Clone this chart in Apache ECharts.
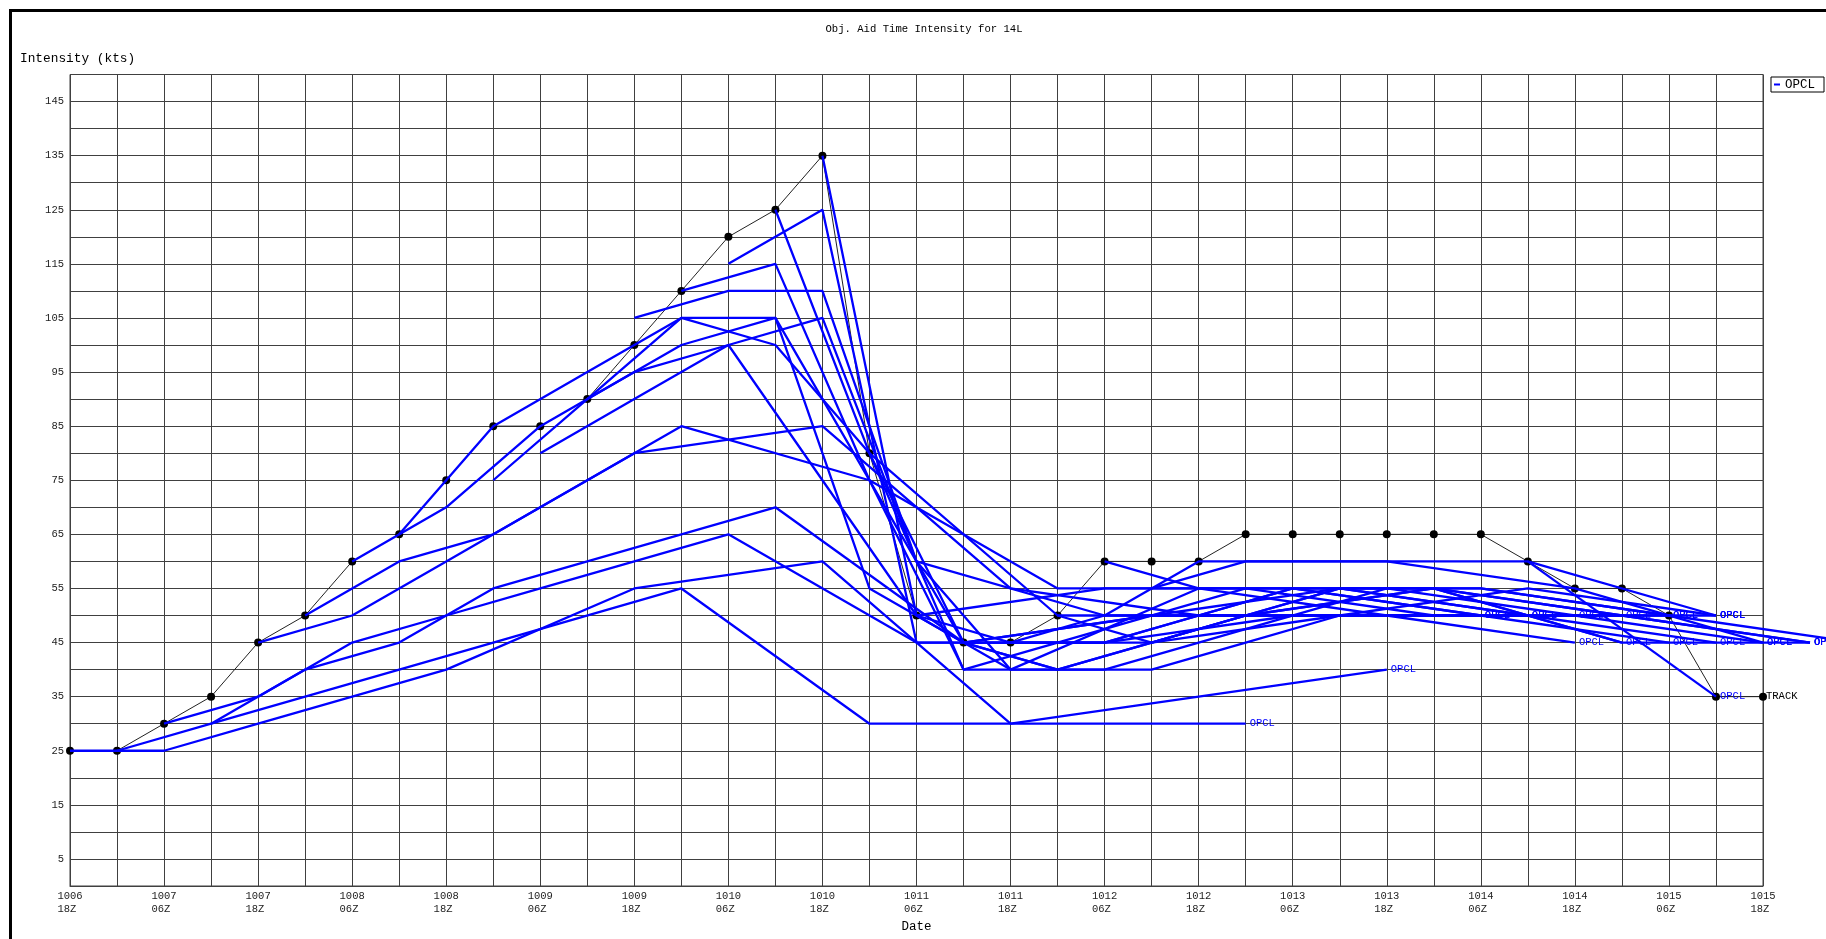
<!DOCTYPE html>
<html>
<head>
<meta charset="utf-8">
<script src="https://cdn.jsdelivr.net/npm/echarts@6/dist/echarts.min.js"></script>
<style>
html,body{margin:0;padding:0;background:#fff;overflow:hidden;width:1826px;height:939px;}
#chart{width:1900px;height:939px;}
</style>
</head>
<body>
<div id="chart"></div>
<script>
// ---- axis tick labels ----
const xTickLabels = ['1006\n18Z ','1007\n06Z ','1007\n18Z ','1008\n06Z ','1008\n18Z ','1009\n06Z ','1009\n18Z ',
  '1010\n06Z ','1010\n18Z ','1011\n06Z ','1011\n18Z ','1012\n06Z ','1012\n18Z ','1013\n06Z ','1013\n18Z ',
  '1014\n06Z ','1014\n18Z ','1015\n06Z ','1015\n18Z '];
const yTickLabels = ['5','15','25','35','45','55','65','75','85','95','105','115','125','135','145'];

// ---- best track intensity (kts), every 6 h from 1006 18Z ----
const trackValues = [25,25,30,35,45,50,60,65,75,85,85,90,100,110,120,125,135,80,50,45,45,50,60,60,60,65,65,65,65,65,65,60,55,55,50,35,35];

// ---- OPCL forecast lead times, in 6-h steps (0,12,24,36,48,72,96,120,144,168 h) ----
const leadSteps = [0,2,4,6,8,12,16,20,24,28];

// ---- OPCL forecasts (kts), named by initial time ----
const opcl_100618 = [25,25,30,35,40,55,60,30,35,40];
const opcl_100700 = [25,30,35,40,45,55,30,30,30];
const opcl_100706 = [30,35,45,50,55,65,45,45,50,50];
const opcl_100712 = [30,40,45,55,60,70,45,50,50,50];
const opcl_100718 = [45,50,60,70,80,85,55,50,50,45];
const opcl_100800 = [50,60,65,75,85,75,55,55,55,45];
const opcl_100806 = [60,70,85,95,100,50,55,55,50,45];
const opcl_100812 = [65,85,95,105,105,45,50,55,50,45];
const opcl_100900 = [75,90,105,100,80,50,50,55,50,45];
const opcl_100906 = [80,90,100,105,60,50,50,50];
const opcl_100912 = [90,100,105,55,45,45,50,50];
const opcl_100918 = [105,110,110,60,40,55,50,50];
const opcl_101000 = [110,115,75,40,45,55,50,50];
const opcl_101006 = [115,125,45,45,45,55,50,50];
const opcl_101012 = [125,80,40,40,45,55,50,50];
const opcl_101018 = [135,50,40,40,45,55,50,45];
const opcl_101100 = [80,45,40,45,50,55,45,45];
const opcl_101106 = [50,45,45,50,55,55,50];
const opcl_101112 = [45,40,40,45,50,55,50];
const opcl_101118 = [45,50,60,60,60,55,45];
const opcl_101200 = [50,45,50,55,55,50,45];
const opcl_101206 = [60,55,55,55,55,50,45];
const opcl_101212 = [55,60,60,60,60,50];
const opcl_101412 = [60,null,35];

// initial time index (6-h steps from 1006 18Z) for each forecast
const forecastList = [
  [0, opcl_100618],[1, opcl_100700],[2, opcl_100706],[3, opcl_100712],[4, opcl_100718],
  [5, opcl_100800],[6, opcl_100806],[7, opcl_100812],[9, opcl_100900],[10, opcl_100906],
  [11, opcl_100912],[12, opcl_100918],[13, opcl_101000],[14, opcl_101006],[15, opcl_101012],
  [16, opcl_101018],[17, opcl_101100],[18, opcl_101106],[19, opcl_101112],[20, opcl_101118],
  [21, opcl_101200],[22, opcl_101206],[23, opcl_101212],[31, opcl_101412]
];

const FONT = '"Liberation Mono", "DejaVu Sans Mono", monospace';
const BLUE = '#0000ff';

// plot box geometry (px); the canvas is wider than the 1826 px window so that
// forecasts may run past the last tick exactly as in the source picture
const CW = 1900;
const PLOT_L = 70, PLOT_R = 1763, G_TOP = 74.5, G_BOTTOM = 53;
const X_MAX = 36, X_MAX_EXT = 38;
const unitPx = (PLOT_R - PLOT_L) / X_MAX;
const extRight = CW - (PLOT_L + unitPx * X_MAX_EXT);

const series = [{
  name: 'TRACK',
  type: 'line',
  xAxisIndex: 0, yAxisIndex: 0,
  data: trackValues.map((v, i) => [i, v]),
  symbol: 'circle',
  symbolSize: 8,
  itemStyle: { color: '#000' },
  lineStyle: { color: '#222', width: 1 },
  z: 2,
  silent: true,
  endLabel: { show: true, formatter: 'TRACK', color: '#000', fontFamily: FONT, fontSize: 10.5, distance: 3 }
}];

forecastList.forEach(([init, vals]) => {
  const data = [];
  vals.forEach((v, k) => { if (v !== null) data.push([init + leadSteps[k], v]); });
  series.push({
    name: 'OPCL',
    type: 'line',
    xAxisIndex: 1, yAxisIndex: 1,
    data: data,
    symbol: 'none',
    showSymbol: false,
    z: 3,
    silent: true,
    itemStyle: { color: BLUE },
    lineStyle: { color: BLUE, width: 2.3 },
    endLabel: { show: true, formatter: 'OPCL', color: BLUE, fontFamily: FONT, fontSize: 10.5, distance: 4 }
  });
});

const gridLine = { show: true, lineStyle: { color: '#404040', width: 1 } };

const chart = echarts.init(document.getElementById('chart'), null, { renderer: 'canvas', width: CW, height: 939 });
chart.setOption({
  animation: false,
  backgroundColor: '#fff',
  grid: [
    { left: PLOT_L, right: CW - PLOT_R, top: G_TOP, bottom: G_BOTTOM, show: true, borderColor: '#404040', borderWidth: 1, outerBoundsMode: 'none' },
    { left: PLOT_L, right: extRight, top: G_TOP, bottom: G_BOTTOM, show: false, outerBoundsMode: 'none' }
  ],
  legend: {
    data: ['OPCL'],
    right: CW - 1824, top: 77,
    icon: 'rect', itemWidth: 6, itemHeight: 2,
    padding: [1, 9, 1, 3],
    borderColor: '#000', borderWidth: 1, backgroundColor: '#fff',
    selectedMode: false,
    textStyle: { fontFamily: FONT, fontSize: 12.5, color: '#000' }
  },
  xAxis: [{
    gridIndex: 0,
    type: 'value', min: 0, max: X_MAX, interval: 1,
    name: 'Date', nameLocation: 'middle', nameGap: 29,
    nameTextStyle: { fontFamily: FONT, fontSize: 12.5, color: '#000' },
    axisLine: { show: true, lineStyle: { color: '#404040', width: 1 } },
    axisTick: { show: false },
    splitLine: gridLine,
    axisLabel: {
      show: true, margin: 4, fontFamily: FONT, fontSize: 10.5, lineHeight: 12.5, color: '#222',
      showMinLabel: true, showMaxLabel: true,
      formatter: v => { const n = Math.round(v); return n % 2 === 0 ? xTickLabels[n / 2] : ''; }
    }
  }, {
    gridIndex: 1, type: 'value', min: 0, max: X_MAX_EXT, show: false,
    splitLine: { show: false }, axisLine: { show: false }, axisLabel: { show: false }, axisTick: { show: false }
  }],
  yAxis: [{
    gridIndex: 0,
    type: 'value', min: 0, max: 150, interval: 5,
    axisLine: { show: true, lineStyle: { color: '#404040', width: 1 } },
    axisTick: { show: false },
    splitLine: gridLine,
    axisLabel: {
      show: true, margin: 6, fontFamily: FONT, fontSize: 10.5, color: '#222',
      formatter: v => yTickLabels.includes(String(Math.round(v))) ? String(Math.round(v)) : ''
    }
  }, {
    gridIndex: 1, type: 'value', min: 0, max: 150, show: false,
    splitLine: { show: false }, axisLine: { show: false }, axisLabel: { show: false }, axisTick: { show: false }
  }],
  graphic: [
    { type: 'rect', silent: true, z: 0,
      shape: { x: 10.5, y: 10.5, width: 2000, height: 1000 },
      style: { fill: 'none', stroke: '#000', lineWidth: 3 } },
    { type: 'text', silent: true, x: 924, y: 29,
      style: { text: 'Obj. Aid Time Intensity for 14L', font: '10.6px ' + FONT, fill: '#000', textAlign: 'center', textVerticalAlign: 'middle' } },
    { type: 'text', silent: true, x: 20, y: 59,
      style: { text: 'Intensity (kts)', font: '12.8px ' + FONT, fill: '#000', textAlign: 'left', textVerticalAlign: 'middle' } }
  ],
  series: series
});
</script>
</body>
</html>
